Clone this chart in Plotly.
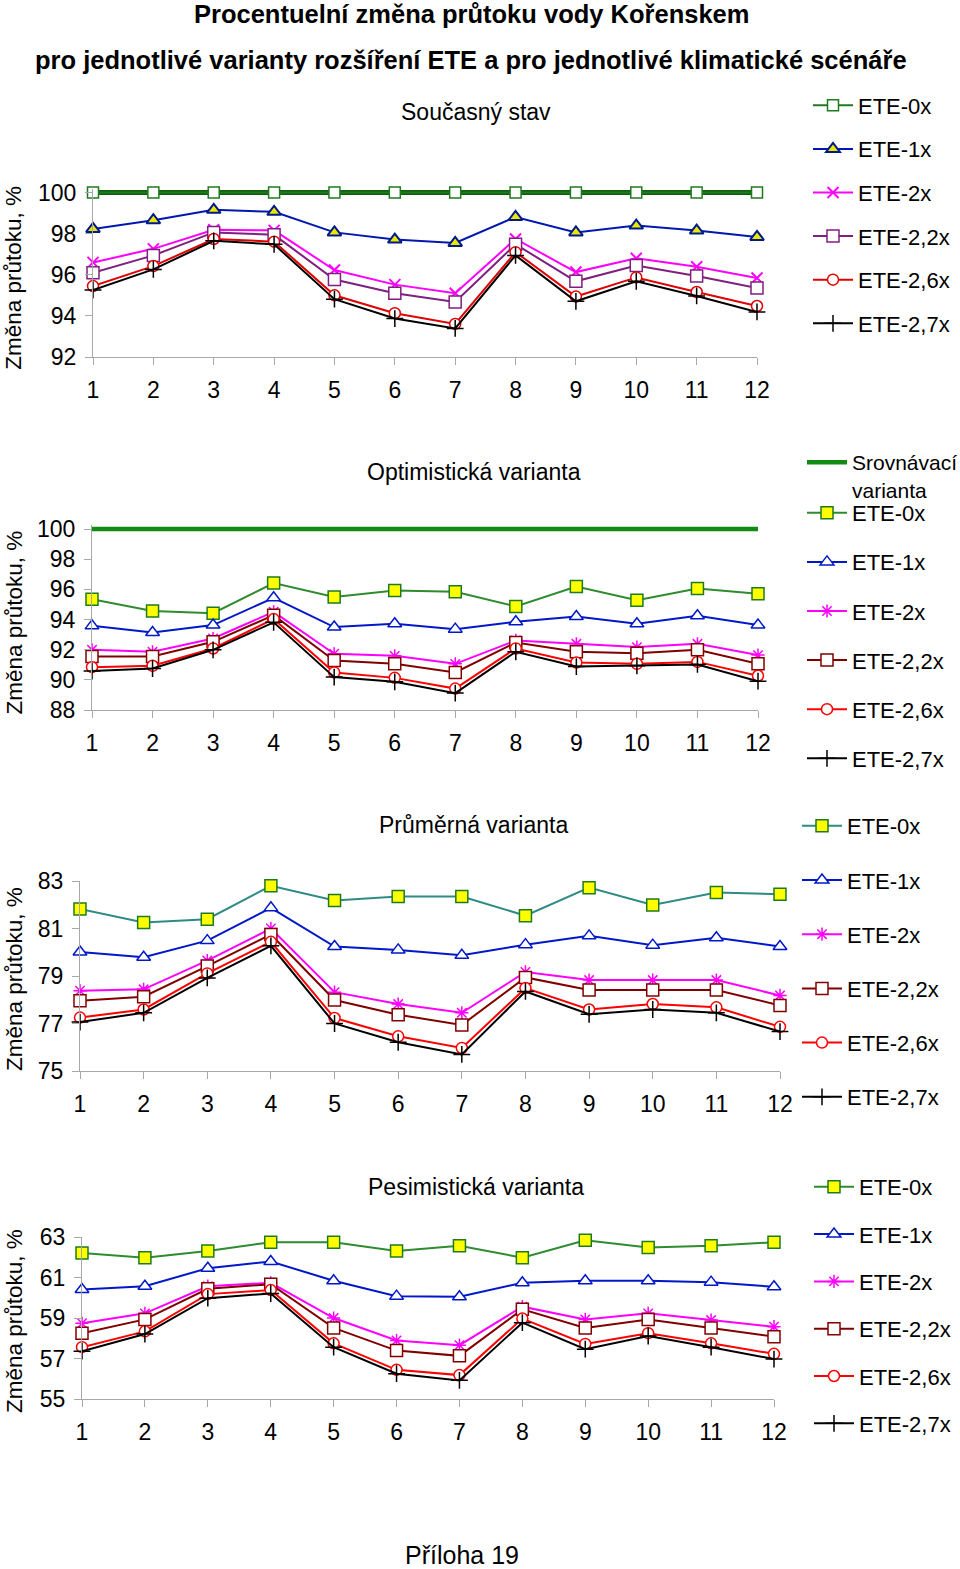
import plotly.graph_objects as go

months = list(range(1, 13))
series_names = ["ETE-0x", "ETE-1x", "ETE-2x", "ETE-2,2x", "ETE-2,6x", "ETE-2,7x"]

# Současný stav
cur_0x = [100] * 12
cur_1x = [98.23, 98.65, 99.16, 99.06, 98.06, 97.71, 97.55, 98.81, 98.06, 98.39, 98.15, 97.84]
cur_2x = [96.6, 97.26, 98.19, 98.16, 96.23, 95.52, 95.1, 97.74, 96.13, 96.8, 96.39, 95.84]
cur_22x = [96.1, 96.94, 98.06, 97.94, 95.77, 95.1, 94.68, 97.48, 95.68, 96.45, 95.94, 95.35]
cur_26x = [95.45, 96.42, 97.74, 97.61, 95.0, 94.13, 93.61, 97.1, 94.94, 95.87, 95.16, 94.48]
cur_27x = [95.26, 96.26, 97.65, 97.48, 94.81, 93.87, 93.39, 96.94, 94.71, 95.68, 94.97, 94.19]

# Optimistická varianta
srovnavaci = [100] * 12
opt_0x = [95.35, 94.56, 94.42, 96.42, 95.49, 95.93, 95.84, 94.87, 96.19, 95.27, 96.06, 95.71]
opt_1x = [93.58, 93.14, 93.63, 95.44, 93.5, 93.72, 93.36, 93.85, 94.2, 93.72, 94.25, 93.63]
opt_2x = [91.99, 91.86, 92.74, 94.51, 91.73, 91.59, 91.06, 92.61, 92.39, 92.17, 92.39, 91.64]
opt_22x = [91.55, 91.55, 92.52, 94.29, 91.28, 91.06, 90.49, 92.48, 91.86, 91.77, 91.99, 91.06]
opt_26x = [90.84, 90.93, 92.08, 94.03, 90.49, 90.13, 89.42, 92.08, 91.15, 91.06, 91.19, 90.27]
opt_27x = [90.58, 90.75, 91.99, 93.81, 90.18, 89.87, 89.12, 91.86, 90.88, 90.93, 91.02, 89.91]

# Průměrná varianta
avg_0x = [81.82, 81.25, 81.39, 82.8, 82.18, 82.35, 82.35, 81.54, 82.72, 81.99, 82.52, 82.44]
avg_1x = [80.01, 79.79, 80.49, 81.87, 80.24, 80.1, 79.87, 80.32, 80.69, 80.3, 80.61, 80.24]
avg_2x = [78.38, 78.44, 79.65, 81.0, 78.32, 77.82, 77.45, 79.17, 78.83, 78.83, 78.83, 78.18]
avg_22x = [77.96, 78.13, 79.42, 80.75, 77.99, 77.37, 76.94, 78.94, 78.41, 78.41, 78.41, 77.76]
avg_26x = [77.25, 77.59, 79.11, 80.44, 77.23, 76.46, 75.97, 78.49, 77.59, 77.82, 77.68, 76.86]
avg_27x = [77.06, 77.45, 78.92, 80.27, 77.0, 76.21, 75.7, 78.35, 77.39, 77.59, 77.45, 76.66]

# Pesimistická varianta
pes_0x = [62.21, 61.98, 62.31, 62.74, 62.74, 62.31, 62.57, 61.98, 62.84, 62.48, 62.57, 62.74]
pes_1x = [60.41, 60.57, 61.46, 61.79, 60.84, 60.08, 60.05, 60.74, 60.84, 60.84, 60.77, 60.54]
pes_2x = [58.74, 59.23, 60.57, 60.74, 59.0, 57.89, 57.66, 59.56, 58.93, 59.23, 58.9, 58.57]
pes_22x = [58.25, 58.93, 60.44, 60.67, 58.51, 57.39, 57.13, 59.43, 58.51, 58.93, 58.51, 58.08]
pes_26x = [57.56, 58.34, 60.18, 60.38, 57.75, 56.44, 56.18, 58.97, 57.72, 58.25, 57.75, 57.23]
pes_27x = [57.36, 58.21, 59.98, 60.21, 57.56, 56.25, 55.92, 58.77, 57.46, 58.11, 57.56, 56.97]

W, H = 960, 1569
FONT = "Liberation Sans, Arial, sans-serif"


def X(px):
    return px / W


def Y(py):
    return 1 - py / H


fig = go.Figure()

# panel geometry (pixels): x of month 1, x of month 12, y top value, y bottom value
panels = [
    dict(x1=93, x12=757, ytop=192.5, ybot=357, rng=[92, 100], ticks=[92, 94, 96, 98, 100],
         sub="Současný stav", sub_y=112, sub_x=476, leg_x=808, leg_y=84.5, gap=12, pad=4),
    dict(x1=92, x12=758, ytop=529, ybot=710, rng=[88, 100], ticks=[88, 90, 92, 94, 96, 98, 100],
         sub="Optimistická varianta", sub_y=472, sub_x=474, leg_x=802, leg_y=492, gap=17.5, pad=4),
    dict(x1=80, x12=780, ytop=881, ybot=1071, rng=[75, 83], ticks=[75, 77, 79, 81, 83],
         sub="Průměrná varianta", sub_y=825, sub_x=473, leg_x=797, leg_y=805, gap=22.6, pad=0),
    dict(x1=82, x12=774, ytop=1237, ybot=1399, rng=[55, 63], ticks=[55, 57, 59, 61, 63],
         sub="Pesimistická varianta", sub_y=1187, sub_x=476, leg_x=809, leg_y=1166, gap=15.7, pad=0),
]

data_sets = [
    [cur_0x, cur_1x, cur_2x, cur_22x, cur_26x, cur_27x],
    [opt_0x, opt_1x, opt_2x, opt_22x, opt_26x, opt_27x],
    [avg_0x, avg_1x, avg_2x, avg_22x, avg_26x, avg_27x],
    [pes_0x, pes_1x, pes_2x, pes_22x, pes_26x, pes_27x],
]

zero_line_colors = ["#1f7a1f", "#2e8b2e", "#2e8b84", "#2e8b2e"]


def styles(p):
    if p == 0:
        return [
            dict(line=dict(color="#1f7a1f", width=2),
                 marker=dict(symbol="square", size=11, color="white", line=dict(color="#1f7a1f", width=1.5))),
            dict(line=dict(color="#0018b0", width=2),
                 marker=dict(symbol="triangle-up", size=12, color="#e8e800", line=dict(color="#001a8c", width=2))),
            dict(line=dict(color="#ff00ff", width=2),
                 marker=dict(symbol="x-thin", size=11, color="#ff00ff", line=dict(color="#ff00ff", width=2))),
            dict(line=dict(color="#7f1f7f", width=2),
                 marker=dict(symbol="square", size=12, color="white", line=dict(color="#7f1f7f", width=1.5))),
            dict(line=dict(color="#e00000", width=2),
                 marker=dict(symbol="circle", size=11, color="white", line=dict(color="#e00000", width=1.5))),
            dict(line=dict(color="#000000", width=2),
                 marker=dict(symbol="cross-thin", size=12, color="black", line=dict(color="black", width=1.5))),
        ]
    return [
        dict(line=dict(color=zero_line_colors[p], width=2),
             marker=dict(symbol="square", size=12, color="#ffff00", line=dict(color="#1f7a1f", width=1.5))),
        dict(line=dict(color="#0018c8", width=2),
             marker=dict(symbol="triangle-up", size=12, color="white", line=dict(color="#0018c8", width=1.5))),
        dict(line=dict(color="#ff00ff", width=2),
             marker=dict(symbol="asterisk", size=11, color="#ff00ff", line=dict(color="#ff00ff", width=1.5))),
        dict(line=dict(color="#800000", width=2),
             marker=dict(symbol="square", size=12, color="white", line=dict(color="#800000", width=1.5))),
        dict(line=dict(color="#ff0000", width=2),
             marker=dict(symbol="circle", size=11, color="white", line=dict(color="#ff0000", width=1.5))),
        dict(line=dict(color="#000000", width=2),
             marker=dict(symbol="cross-thin", size=12, color="black", line=dict(color="black", width=1.5))),
    ]


annotations = []
for i, (pn, ds) in enumerate(zip(panels, data_sets)):
    n = i + 1
    xa = "x" if n == 1 else f"x{n}"
    ya = "y" if n == 1 else f"y{n}"
    leg = "legend" if n == 1 else f"legend{n}"
    # small headroom so thick lines at the top value are not clipped
    ppu = (pn["ybot"] - pn["ytop"]) / (pn["rng"][1] - pn["rng"][0])
    rng_top = pn["rng"][1] + pn["pad"] / ppu
    dom_top_px = pn["ytop"] - pn["pad"]
    if i == 0:
        fig.add_trace(go.Scatter(x=months, y=srovnavaci, mode="lines", xaxis=xa, yaxis=ya,
                                 line=dict(color="#0f5f0f", width=5), showlegend=False,
                                 cliponaxis=False, hoverinfo="skip"))
    if i == 1:
        fig.add_trace(go.Scatter(x=months, y=srovnavaci, mode="lines", xaxis=xa, yaxis=ya,
                                 name="Srovnávací<br>varianta", legend="legend5",
                                 line=dict(color="#138a13", width=4.5), cliponaxis=False))
    st = styles(i)
    for k, (nm, vals) in enumerate(zip(series_names, ds)):
        fig.add_trace(go.Scatter(x=months, y=vals, mode="lines+markers", name=nm,
                                 xaxis=xa, yaxis=ya, legend=leg, legendgroup=f"g{n}_{k}",
                                 line=st[k]["line"], marker=st[k]["marker"], cliponaxis=False))
    axis_common = dict(showline=True, linecolor="#a8a8a8", linewidth=1.2, ticks="outside",
                       tickcolor="#a8a8a8", ticklen=7, showgrid=False, zeroline=False,
                       tickfont=dict(family=FONT, size=23, color="black"))
    fig.update_layout(**{
        ("xaxis" if n == 1 else f"xaxis{n}"): dict(
            domain=[X(pn["x1"]), X(pn["x12"])], range=[1, 12], anchor=ya,
            tickmode="array", tickvals=months, ticktext=[str(m) for m in months],
            ticklabelstandoff=5, automargin=False, **axis_common),
        ("yaxis" if n == 1 else f"yaxis{n}"): dict(
            domain=[Y(pn["ybot"]), Y(dom_top_px)], range=[pn["rng"][0], rng_top], anchor=xa,
            tickmode="array", tickvals=pn["ticks"], ticklabelstandoff=4, automargin=False, **axis_common),
        leg: dict(x=X(pn["leg_x"]), y=Y(pn["leg_y"]), xanchor="left", yanchor="top",
                  traceorder="grouped", tracegroupgap=pn["gap"], bgcolor="rgba(0,0,0,0)",
                  valign="top", font=dict(family=FONT, size=22, color="black"), itemwidth=40),
    })
    annotations.append(dict(text=pn["sub"], x=X(pn["sub_x"]), y=Y(pn["sub_y"]), xref="paper", yref="paper",
                            showarrow=False, font=dict(family=FONT, size=23, color="black"),
                            xanchor="center", yanchor="middle"))
    annotations.append(dict(text="Změna průtoku, %", x=X(14), y=Y((pn["ytop"] + pn["ybot"]) / 2 + 3),
                            xref="paper", yref="paper", showarrow=False, textangle=-90,
                            font=dict(family=FONT, size=22.5, color="black"),
                            xanchor="center", yanchor="middle"))

fig.update_layout(legend5=dict(x=X(802), y=Y(442), xanchor="left", yanchor="top", bgcolor="rgba(0,0,0,0)",
                               valign="top", font=dict(family=FONT, size=21, color="black"), itemwidth=40))

annotations.append(dict(text="<b>Procentuelní změna průtoku vody Kořenskem</b>", x=X(471), y=Y(14),
                        xref="paper", yref="paper", showarrow=False,
                        font=dict(family=FONT, size=25.5, color="black"), xanchor="center", yanchor="middle"))
annotations.append(dict(text="<b>pro jednotlivé varianty rozšíření ETE a pro jednotlivé klimatické scénáře</b>",
                        x=X(471), y=Y(60), xref="paper", yref="paper", showarrow=False,
                        font=dict(family=FONT, size=25.5, color="black"), xanchor="center", yanchor="middle"))
annotations.append(dict(text="Příloha 19", x=X(462), y=Y(1555), xref="paper", yref="paper", showarrow=False,
                        font=dict(family=FONT, size=25, color="black"), xanchor="center", yanchor="middle"))

fig.update_layout(width=W, height=H, margin=dict(l=0, r=0, t=0, b=0, autoexpand=False),
                  paper_bgcolor="white", plot_bgcolor="white", annotations=annotations,
                  font=dict(family=FONT, color="black"))

fig.write_html("out.html", config={"displayModeBar": False},
               post_script="document.body.style.margin='0px';document.body.style.padding='0px';")
